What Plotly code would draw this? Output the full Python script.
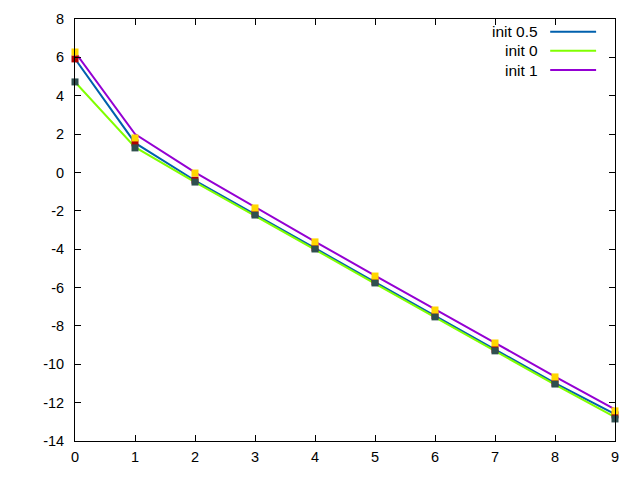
import plotly.graph_objects as go

x = [0, 1, 2, 3, 4, 5, 6, 7, 8, 9]

# line series
init05 = [5.92, 1.54, -0.42, -2.17, -3.95, -5.72, -7.48, -9.22, -10.98, -12.6]
init0 = [4.72, 1.32, -0.5, -2.25, -4.02, -5.8, -7.56, -9.3, -11.06, -12.75]
init1 = [6.28, 2.0, 0.0, -1.82, -3.6, -5.38, -7.15, -8.88, -10.64, -12.35]

# point markers
pts_red = [5.92, 1.54, -0.4, -2.15, -3.93, -5.7, -7.46, -9.22, -10.98, -12.64]
pts_slate = [4.72, 1.28, -0.5, -2.22, -3.99, -5.76, -7.53, -9.3, -11.03, -12.85]
pts_gold = [6.28, 1.8, -0.03, -1.85, -3.62, -5.4, -7.17, -8.89, -10.66, -12.43]

labels = ["init 0.5", "init 0", "init 1"]
colors = ["#0060ad", "#80ff00", "#9400d3"]

x_ticks = [0, 1, 2, 3, 4, 5, 6, 7, 8, 9]
y_ticks = [-14, -12, -10, -8, -6, -4, -2, 0, 2, 4, 6, 8]
y_ticktext = ["-14", "-12", "-10", "-8", "-6", "-4", "-2", "0", "2", "4", "6", "8"]

fig = go.Figure()
for ys, c in zip([init05, init0, init1], colors):
    fig.add_trace(go.Scatter(x=x, y=ys, mode="lines", line=dict(color=c, width=2),
                             showlegend=False, hoverinfo="skip", cliponaxis=False))
for ys, c in zip([pts_red, pts_slate, pts_gold], ["#b00000", "#2f4f4f", "#ffd700"]):
    fig.add_trace(go.Scatter(x=x, y=ys, mode="markers",
                             marker=dict(symbol="square", size=7, color=c, line=dict(width=0)),
                             showlegend=False, hoverinfo="skip", cliponaxis=False))

# gnuplot-like legend (text right-aligned, sample line at right)
legend_y = [0.970, 0.925, 0.879]
for lab, c, yp in zip(labels, colors, legend_y):
    fig.add_annotation(xref="paper", yref="paper", x=0.857, y=yp, text=lab, showarrow=False,
                       xanchor="right", yanchor="middle", xshift=2,
                       font=dict(family="Liberation Sans, Arial", size=15.5, color="#000000"))
    fig.add_shape(type="line", xref="paper", yref="paper", x0=0.880, x1=0.965, y0=yp, y1=yp,
                  line=dict(color=c, width=2))

axis_common = dict(showgrid=False, zeroline=False, showline=True, linecolor="#000000",
                   linewidth=1, mirror="allticks", ticks="inside", ticklen=6,
                   tickcolor="#000000", automargin=False,
                   tickfont=dict(family="Liberation Sans, Arial", size=14.5, color="#000000"))
fig.update_xaxes(range=[0, 9], tickvals=x_ticks, ticklabelstandoff=3, **axis_common)
fig.update_yaxes(range=[-14, 8], tickvals=y_ticks, ticktext=y_ticktext,
                 ticklabelstandoff=7, **axis_common)

fig.update_layout(width=640, height=480, margin=dict(l=67, r=33, t=11, b=47),
                  paper_bgcolor="#ffffff", plot_bgcolor="#ffffff", showlegend=False)

fig.write_html("out.html")
